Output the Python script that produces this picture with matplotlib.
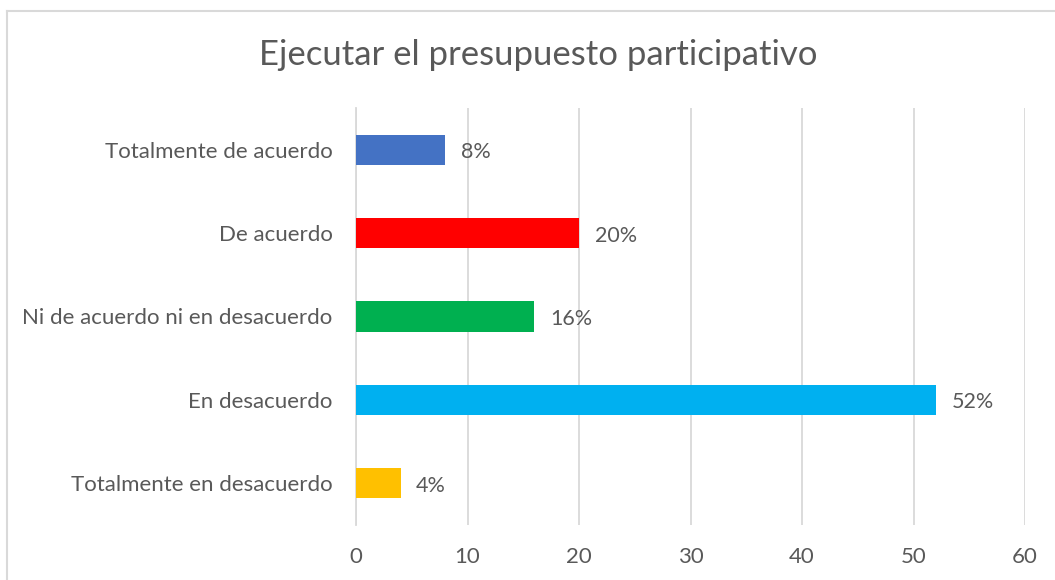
import matplotlib
matplotlib.use("Agg")
from matplotlib import pyplot as plt
from matplotlib.lines import Line2D

# Datos del gráfico (de arriba hacia abajo)
categorias = ["Totalmente de acuerdo", "De acuerdo", "Ni de acuerdo ni en desacuerdo",
              "En desacuerdo", "Totalmente en desacuerdo"]
valores = [8, 20, 16, 52, 4]
etiquetas = ["8%", "20%", "16%", "52%", "4%"]
colores = ["#4472C4", "#FF0000", "#00B050", "#00B0F0", "#FFC000"]
ticks_x = [0, 10, 20, 30, 40, 50, 60]

plt.rcParams['font.family'] = ['Lato', 'DejaVu Sans']
gris_texto = "#595959"
gris_linea = "#D9D9D9"

fig = plt.figure(figsize=(10.55, 5.8), dpi=100)
ax = fig.add_axes([356 / 1055, 1 - 525 / 580, (1025 - 356) / 1055, (525 - 108) / 580])

pos = list(range(len(categorias)))
ax.barh(pos, valores, height=0.36, color=colores, zorder=3)
for p, v, t in zip(pos, valores, etiquetas):
    ax.text(v + 1.4, p + 0.03, t, va="center", ha="left", fontsize=15.5, color=gris_texto)

ax.set_ylim(len(categorias) - 0.5, -0.5)
ax.set_xlim(0, 60)
ax.set_yticks(pos)
ax.set_yticklabels(categorias, fontsize=16, color=gris_texto)
ax.set_xticks(ticks_x)
ax.set_xticklabels([str(t) for t in ticks_x], fontsize=16, color=gris_texto)
ax.tick_params(axis="both", length=0)
ax.tick_params(axis="y", pad=17)
ax.tick_params(axis="x", pad=16)
ax.grid(True, axis="x", color=gris_linea, linewidth=1.3, zorder=0)
for s in ["top", "right", "bottom"]:
    ax.spines[s].set_visible(False)
ax.spines["left"].set_color(gris_linea)
ax.spines["left"].set_linewidth(1.3)

fig.text(538 / 1055, 1 - 55 / 580, "Ejecutar el presupuesto participativo",
         ha="center", va="center", fontsize=25, color=gris_texto)

# Borde del gráfico
fig.add_artist(Line2D([7 / 1055, 1], [1 - 11 / 580, 1 - 11 / 580], color=gris_linea, linewidth=1.5))
fig.add_artist(Line2D([7 / 1055, 7 / 1055], [0, 1 - 11 / 580], color=gris_linea, linewidth=1.5))

fig.savefig("out.png", dpi=100)
